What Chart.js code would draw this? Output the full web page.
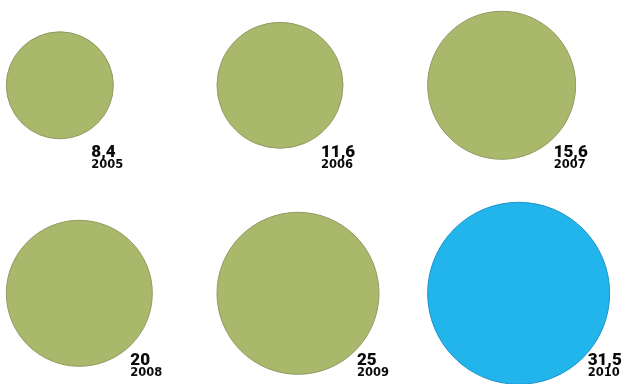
<!DOCTYPE html>
<html>
<head>
<meta charset="utf-8">
<script src="https://cdn.jsdelivr.net/npm/chart.js@4/dist/chart.umd.min.js"></script>
<style>
  html, body { margin: 0; padding: 0; background: #ffffff; }
  #wrap { width: 632px; height: 384px; position: relative; }
</style>
</head>
<body>
<div id="wrap"><canvas id="c" width="632" height="384"></canvas></div>
<script>
// ---- data ----
const years = ['2005', '2006', '2007', '2008', '2009', '2010'];
const values = [8.4, 11.6, 15.6, 20, 25, 31.5];
const valueLabels = ['8,4', '11,6', '15,6', '20', '25', '31,5'];

// ---- styles ----
const bubbleRadii = [53.5, 63, 74, 73, 81, 91];
const green = '#a9b86b';
const greenBorder = '#8f9b62';
const blue = '#22b5ec';
const blueBorder = '#1d92c6';
const highlightYear = '2010';

// grid layout derived from index (3 columns, 2 rows)
const points = values.map((v, i) => ({ x: i % 3, y: Math.floor(i / 3), v: v }));

const leftAlign = {
  id: 'leftAlign',
  afterDatasetsUpdate(chart) {
    chart.getDatasetMeta(0).data.forEach(el => { el.x += el.options.radius; });
  }
};

const labelPlugin = {
  id: 'labels',
  afterDatasetsDraw(chart) {
    const ctx = chart.ctx;
    ctx.save();
    ctx.fillStyle = '#0a0a0a';
    ctx.textAlign = 'left';
    ctx.textBaseline = 'alphabetic';
    chart.getDatasetMeta(0).data.forEach((el, i) => {
      const r = el.options.radius;
      const lx = el.x + r - 22;
      ctx.font = '900 17px Roboto';
      ctx.fillText(valueLabels[i], lx, el.y + 72);
      ctx.font = 'bold 11.5px "DejaVu Sans"';
      ctx.fillText(years[i], lx, el.y + 83);
    });
    ctx.restore();
  }
};

new Chart(document.getElementById('c'), {
  type: 'bubble',
  data: {
    datasets: [{
      data: points,
      radius: bubbleRadii,
      backgroundColor: years.map(y => y === highlightYear ? blue : green),
      borderColor: years.map(y => y === highlightYear ? blueBorder : greenBorder),
      borderWidth: 1,
      clip: false
    }]
  },
  options: {
    responsive: false,
    animation: false,
    events: [],
    layout: { padding: 0, autoPadding: false },
    plugins: { legend: { display: false }, tooltip: { enabled: false } },
    scales: {
      x: { type: 'linear', display: false, min: -0.03, max: 2.97 },
      y: { type: 'linear', display: false, reverse: true, min: -0.41, max: 1.436 }
    }
  },
  plugins: [leftAlign, labelPlugin]
});
</script>
</body>
</html>
